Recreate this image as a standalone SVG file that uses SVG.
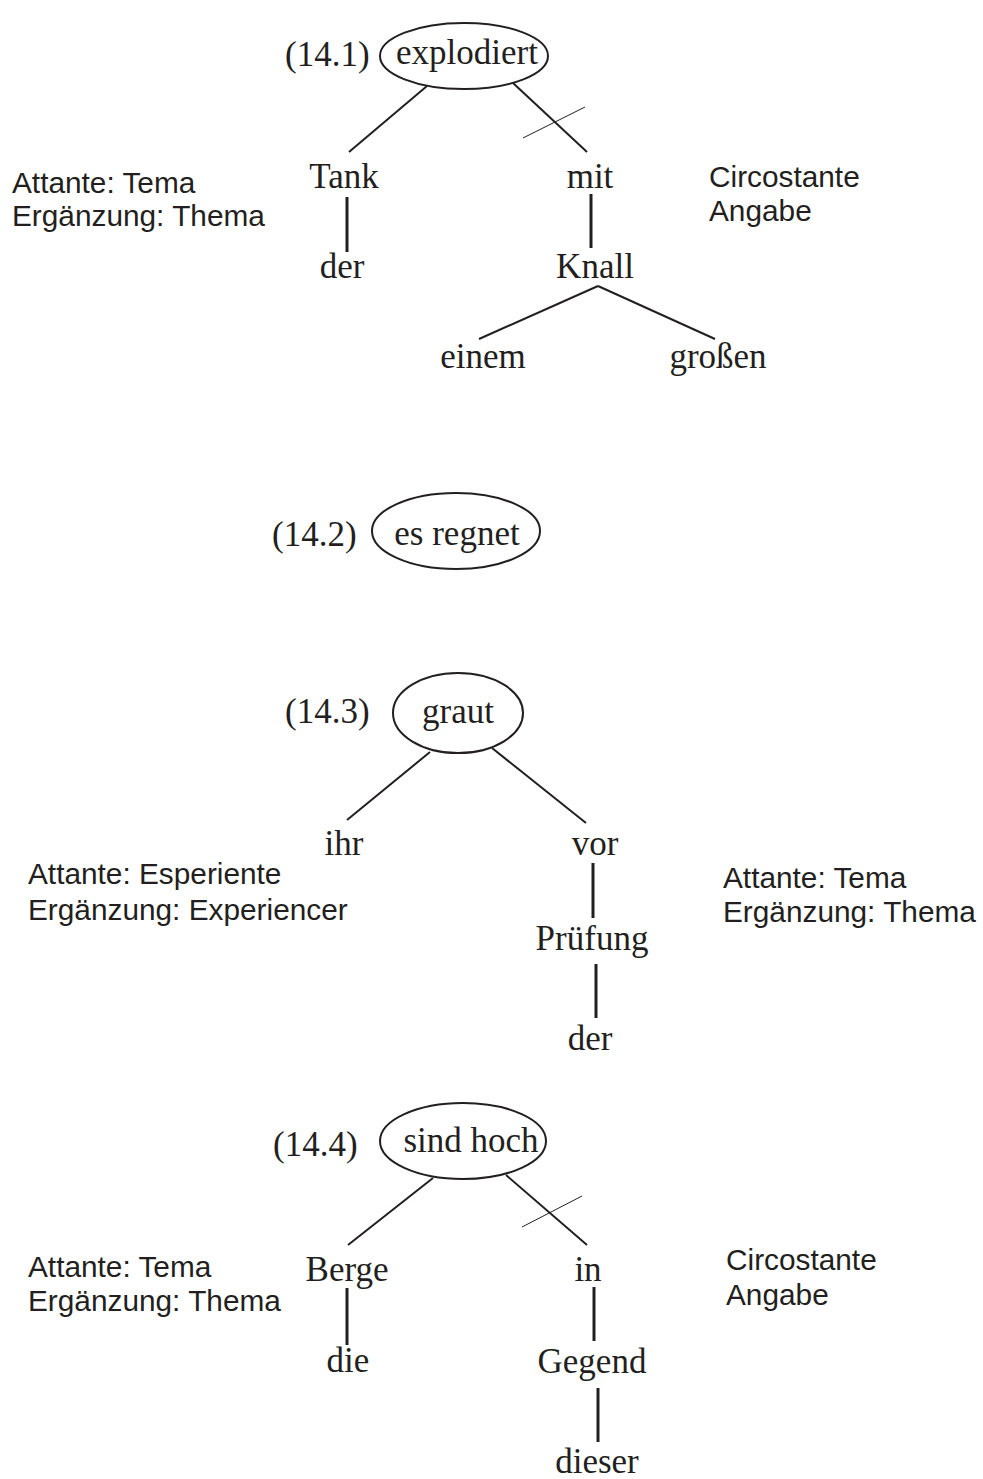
<svg xmlns="http://www.w3.org/2000/svg" width="983" height="1479" viewBox="0 0 983 1479">
<style>
.w{font-family:"Liberation Serif","Times New Roman",serif;font-size:35px;fill:#231f20;text-anchor:middle}
.n{font-family:"Liberation Serif","Times New Roman",serif;font-size:35px;fill:#231f20}
.a{font-family:"Liberation Sans",Arial,sans-serif;font-size:29.8px;fill:#231f20}
.e{fill:none;stroke:#231f20;stroke-width:2}
.l{stroke:#231f20;stroke-width:2;fill:none}
.v{stroke:#231f20;stroke-width:3;fill:none}
.t{stroke:#231f20;stroke-width:1;fill:none}
</style>
<rect width="983" height="1479" fill="#fff"/>
<g id="connectors">
<line class="l" x1="427" y1="86" x2="349" y2="152"/>
<line class="l" x1="513" y1="83" x2="587" y2="152"/>
<line class="t" x1="523" y1="138" x2="585" y2="107"/>
<line class="v" x1="347" y1="197" x2="347" y2="252"/>
<line class="v" x1="591" y1="194" x2="591" y2="248"/>
<line class="l" x1="598" y1="286" x2="479" y2="339"/>
<line class="l" x1="598" y1="286" x2="715" y2="339"/>
<line class="l" x1="430" y1="752" x2="347" y2="820"/>
<line class="l" x1="492" y1="748" x2="586" y2="823"/>
<line class="v" x1="593" y1="863" x2="593" y2="918"/>
<line class="v" x1="596" y1="964" x2="596" y2="1018"/>
<line class="l" x1="433" y1="1178" x2="348" y2="1245"/>
<line class="l" x1="506" y1="1175" x2="587" y2="1245"/>
<line class="t" x1="522" y1="1227" x2="582" y2="1196"/>
<line class="v" x1="347" y1="1288" x2="347" y2="1345"/>
<line class="v" x1="594" y1="1287" x2="594" y2="1341"/>
<line class="v" x1="598" y1="1388" x2="598" y2="1442"/>
</g>
<g id="ex141">
<text class="n" x="285" y="66">(14.1)</text>
<g id="explodiert"><ellipse class="e" cx="464" cy="56" rx="84" ry="33"/><text class="w" x="467" y="64">explodiert</text></g>
<g id="tank1"><text class="w" x="344" y="188">Tank</text></g>
<g id="der1"><text class="w" x="342" y="278">der</text></g>
<g id="mit"><text class="w" x="590" y="188">mit</text></g>
<g id="knall"><text class="w" x="595" y="278">Knall</text></g>
<g id="einem"><text class="w" x="483" y="368">einem</text></g>
<g id="grossen"><text class="w" x="718" y="368">großen</text></g>
<g id="lab141a"><text class="a" x="12" y="193">Attante: Tema</text><text class="a" x="12" y="226">Ergänzung: Thema</text></g>
<g id="lab141b"><text class="a" x="709" y="187">Circostante</text><text class="a" x="709" y="221">Angabe</text></g>
</g>
<g id="ex142">
<text class="n" x="272" y="546">(14.2)</text>
<g id="esregnet"><ellipse class="e" cx="456" cy="531" rx="84" ry="38"/><text class="w" x="457" y="545">es regnet</text></g>
</g>
<g id="ex143">
<text class="n" x="285" y="723">(14.3)</text>
<g id="graut"><ellipse class="e" cx="458" cy="713" rx="65" ry="40"/><text class="w" x="458" y="723">graut</text></g>
<g id="ihr"><text class="w" x="344" y="855">ihr</text></g>
<g id="vor"><text class="w" x="595" y="855">vor</text></g>
<g id="pruefung"><text class="w" x="592" y="950">Prüfung</text></g>
<g id="der3"><text class="w" x="590" y="1050">der</text></g>
<g id="lab143a"><text class="a" x="28" y="884">Attante: Esperiente</text><text class="a" x="28" y="920">Ergänzung: Experiencer</text></g>
<g id="lab143b"><text class="a" x="723" y="888">Attante: Tema</text><text class="a" x="723" y="922">Ergänzung: Thema</text></g>
</g>
<g id="ex144">
<text class="n" x="273" y="1156">(14.4)</text>
<g id="sindhoch"><ellipse class="e" cx="463" cy="1141" rx="83" ry="38"/><text class="w" x="471" y="1152">sind hoch</text></g>
<g id="berge"><text class="w" x="347" y="1281">Berge</text></g>
<g id="die"><text class="w" x="348" y="1372">die</text></g>
<g id="in"><text class="w" x="588" y="1281">in</text></g>
<g id="gegend"><text class="w" x="592" y="1373">Gegend</text></g>
<g id="dieser"><text class="w" x="597" y="1473">dieser</text></g>
<g id="lab144a"><text class="a" x="28" y="1277">Attante: Tema</text><text class="a" x="28" y="1311">Ergänzung: Thema</text></g>
<g id="lab144b"><text class="a" x="726" y="1270">Circostante</text><text class="a" x="726" y="1305">Angabe</text></g>
</g>
</svg>
